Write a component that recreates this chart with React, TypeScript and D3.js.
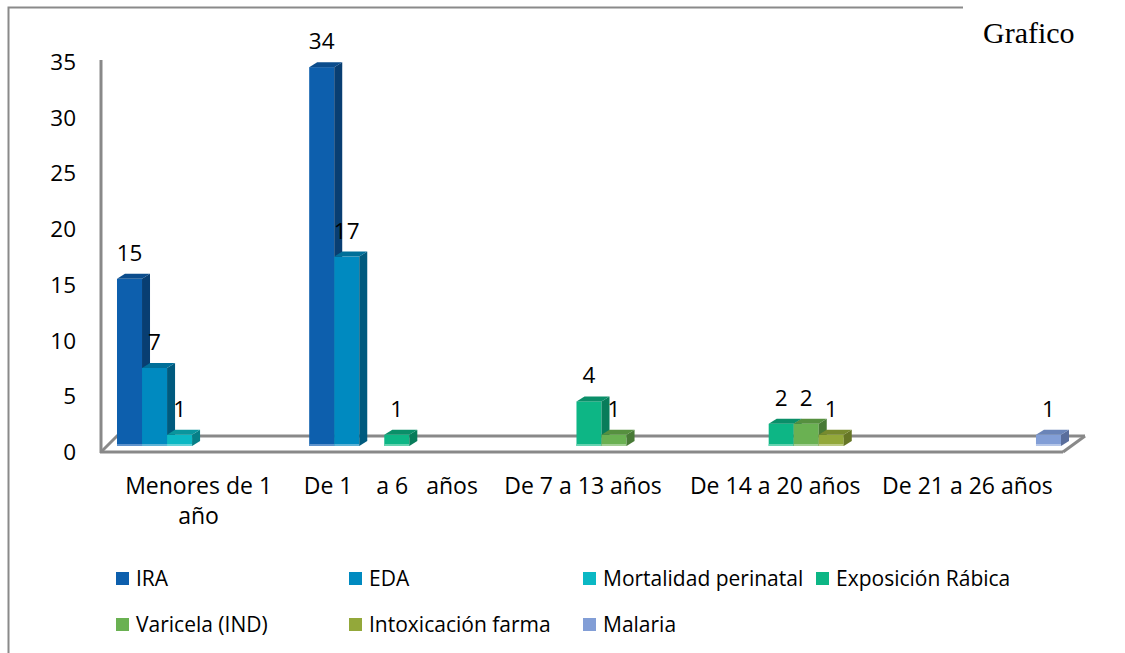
import React from "react";
import * as d3 from "d3";

const categories = ["Menores de 1|año", "De 1    a 6   años", "De 7 a 13 años", "De 14 a 20 años", "De 21 a 26 años"];
const seriesNames = ["IRA", "EDA", "Mortalidad perinatal", "Exposición Rábica", "Varicela (IND)", "Intoxicación farma", "Malaria"];
const IRA = [15, 34, 0, 0, 0];
const EDA = [7, 17, 0, 0, 0];
const Mortalidad = [1, 0, 0, 0, 0];
const Exposicion = [0, 1, 4, 2, 0];
const Varicela = [0, 0, 1, 2, 0];
const Intoxicacion = [0, 0, 0, 1, 0];
const Malaria = [0, 0, 0, 0, 1];
const seriesValues = [IRA, EDA, Mortalidad, Exposicion, Varicela, Intoxicacion, Malaria];
const yTicks = [0, 5, 10, 15, 20, 25, 30, 35];

const frontColors = ["#0D5FAD", "#008AC0", "#0BB8C4", "#0DB685", "#6AB152", "#93A83A", "#829ED6"];
const topColors = ["#0B4C8C", "#006F99", "#0A959D", "#0A8F69", "#56903F", "#778A2E", "#6A84B8"];
const sideColors = ["#083E72", "#005A7E", "#077F87", "#087C5A", "#487A36", "#667626", "#5A6E9C"];
const stripColors = ["#5F93CC", "#5FB3D6", "#66D3D9", "#66D3B0", "#A3CF94", "#BECB86", "#B5C6E8"];

const FONT = "'Open Sans', 'Noto Sans', sans-serif";

export default function App() {
  const yAxis = d3.scaleLinear().domain([0, 35]).range([452, 62]);
  const depthY = 6;
  const barY = (v: number) => yAxis(v) - depthY;
  const base = barY(0);
  const dx = 8;
  const dy = 5;

  const xCat = d3.scaleBand<string>().domain(categories).range([108.5, 1069.5]).paddingInner(0.0885).paddingOuter(0.0442);
  const xSer = d3.scaleBand<string>().domain(seriesNames).range([0, xCat.bandwidth()]);
  const w = xSer.bandwidth();

  const bars: JSX.Element[] = [];
  const labels: JSX.Element[] = [];
  categories.forEach((c, i) => {
    seriesNames.forEach((s, j) => {
      const v = seriesValues[j][i];
      if (!v) return;
      const x = (xCat(c) as number) + (xSer(s) as number);
      const y = barY(v);
      bars.push(
        <g key={`b${i}-${j}`}>
          <rect x={x} y={y} width={w} height={base - y} fill={frontColors[j]} />
          <rect x={x} y={base - 2} width={w} height={2} fill={stripColors[j]} />
          <polygon points={`${x + w},${y} ${x + w + dx},${y - dy} ${x + w + dx},${base - dy} ${x + w},${base}`} fill={sideColors[j]} />
          <polygon points={`${x},${y} ${x + dx},${y - dy} ${x + w + dx},${y - dy} ${x + w},${y}`} fill={topColors[j]} />
        </g>
      );
      labels.push(
        <text key={`l${i}-${j}`} x={x + w / 2} y={y - 18} textAnchor="middle" fontSize={22.5} fontFamily={FONT} fill="#000">
          {v}
        </text>
      );
    });
  });

  const legendCols = [116, 349, 583, 816];
  const legendRows = [572, 618];

  return (
    <svg width={1125} height={653} style={{ position: "absolute", left: 0, top: 0, background: "#fff" }}>
      <rect x={0} y={0} width={1125} height={653} fill="#fff" />
      <path d="M8.5,653 L8.5,7.5 L963,7.5" fill="none" stroke="#8a8a8a" strokeWidth={2} />
      <text x={983} y={43} fontFamily="'Liberation Serif', 'Times New Roman', serif" fontSize={30} fill="#000">Grafico</text>

      <g stroke="#898989" strokeWidth={3} fill="none">
        <line x1={101} y1={60} x2={101} y2={453} />
        <line x1={100} y1={452} x2={1063} y2={452} />
        <line x1={116} y1={436} x2={1085} y2={436} />
        <line x1={101} y1={452} x2={117} y2={436} />
        <line x1={1063} y1={452} x2={1085} y2={436} />
      </g>

      {yTicks.map((t) => (
        <text key={t} x={76} y={yAxis(t) + 8} textAnchor="end" fontSize={22.5} fontFamily={FONT} fill="#000">
          {t}
        </text>
      ))}

      {bars}
      {labels}

      {categories.map((c, i) => {
        const cx = (xCat(c) as number) + xCat.bandwidth() / 2 - 6;
        const lines = c.split("|");
        return (
          <text key={c} x={cx} y={494} textAnchor="middle" fontSize={23} fontFamily={FONT} fill="#000" style={{ whiteSpace: "pre" }}>
            {lines.map((ln, k) => (
              <tspan key={k} x={cx} dy={k === 0 ? 0 : 30}>{ln}</tspan>
            ))}
          </text>
        );
      })}

      {seriesNames.map((s, j) => {
        const col = j % 4;
        const row = Math.floor(j / 4);
        const lx = legendCols[col];
        const ly = legendRows[row];
        return (
          <g key={s}>
            <rect x={lx} y={ly} width={13} height={13} fill={frontColors[j]} />
            <text x={lx + 20} y={ly + 14} fontSize={21} fontFamily={FONT} fill="#000">{s}</text>
          </g>
        );
      })}
    </svg>
  );
}
